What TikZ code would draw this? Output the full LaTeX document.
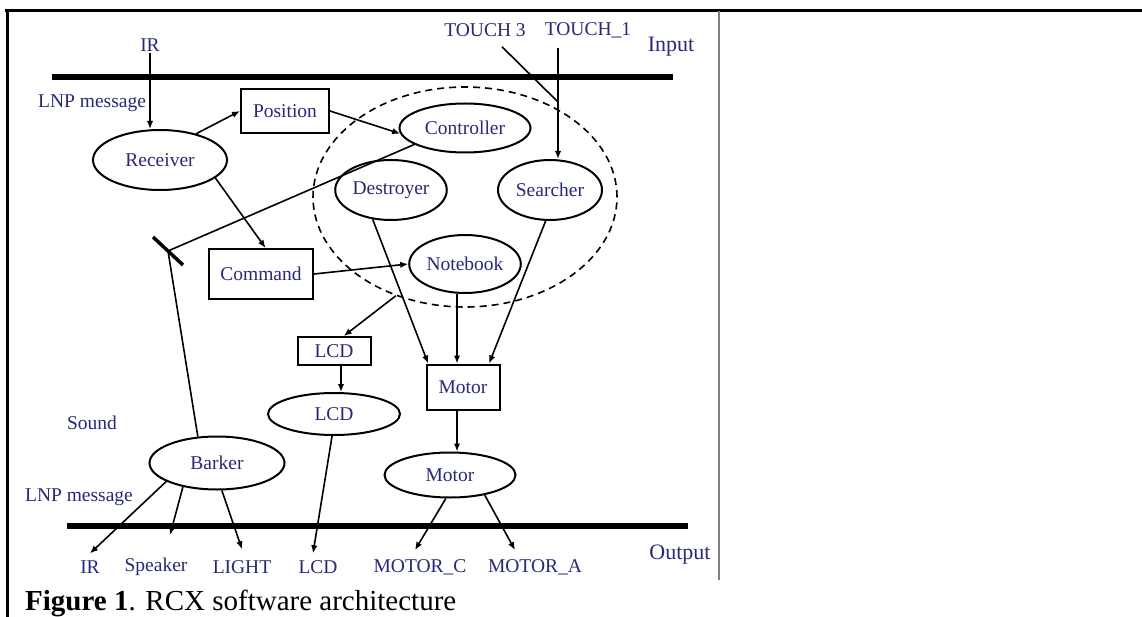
\documentclass[tikz,border=0pt]{standalone}
\usepackage{fontspec}
\setmainfont{Liberation Serif}
\usetikzlibrary{shapes.geometric,arrows.meta,calc}
\definecolor{navy}{RGB}{40,40,120}
\begin{document}
\begin{tikzpicture}[x=1pt,y=-1pt,
  lbl/.style={text=navy, font=\fontsize{19.5}{22}\selectfont, inner sep=1pt},
  biglbl/.style={text=navy, font=\fontsize{22}{25}\selectfont, inner sep=1pt},
  ell/.style={ellipse, draw, line width=2pt, inner sep=0pt, lbl},
  box/.style={rectangle, draw, line width=2pt, inner sep=0pt, lbl},
  conn/.style={line width=1.6pt, -{Latex[length=8pt,width=6.5pt]}},
  plain/.style={line width=1.6pt},
  bus/.style={line width=5.5pt}]
\useasboundingbox (0,0) rectangle (1142,617);
% frame
\draw[line width=3pt] (5,11) -- (1142,11);
\draw[line width=3pt] (7,11) -- (7,617);
\draw[gray, line width=2pt] (719,11) -- (719,580);
% buses
\coordinate (inL) at (52,77); \coordinate (inR) at (673,77);
\coordinate (outL) at (67,526); \coordinate (outR) at (688,526);
\draw[bus] (inL) -- (inR);
\draw[bus] (outL) -- (outR);
% group
\node[ellipse, draw, dash pattern=on 7pt off 5pt, line width=1.6pt, minimum width=304pt, minimum height=220pt] (group) at (465,197) {};
% nodes
\node[ell, minimum width=134pt, minimum height=60pt] (receiver) at (160,160) {Receiver};
\node[box, minimum width=88pt, minimum height=44pt] (position) at (285,111) {Position};
\node[ell, minimum width=131pt, minimum height=49pt] (controller) at (465,128) {Controller};
\node[ell, minimum width=102pt, minimum height=60pt] (destroyer) at (391,190) {Destroyer};
\node[ell, minimum width=104pt, minimum height=60pt] (searcher) at (550,190) {Searcher};
\node[box, minimum width=104pt, minimum height=50pt] (command) at (261,274) {Command};
\node[ell, minimum width=104pt, minimum height=58pt] (notebook) at (465,264) {Notebook};
\node[box, minimum width=73pt, minimum height=28pt] (lcdr) at (334,351) {LCD};
\node[ell, minimum width=132pt, minimum height=42pt] (lcde) at (334,414) {LCD};
\node[box, minimum width=73pt, minimum height=45pt] (motorr) at (463,387) {Motor};
\node[ell, minimum width=131pt, minimum height=45pt] (motore) at (450,475) {Motor};
\node[ell, minimum width=135pt, minimum height=53pt] (barker) at (217,463) {Barker};
% labels
\node[lbl] (irin) at (150,45) {IR};
\node[lbl, anchor=west] (lnp1) at (37,103) {LNP message};
\node[lbl] (touch3) at (485,30) {TOUCH 3};
\node[lbl] (touch1) at (588,30) {TOUCH\_1};
\node[biglbl] (input) at (671,47) {Input};
\node[lbl] (sound) at (92,423) {Sound};
\node[lbl] (lnp2) at (79,497) {LNP message};
\node[lbl] (irout) at (90,567) {IR};
\node[lbl] (speaker) at (156,567) {Speaker};
\node[lbl] (light) at (242,567) {LIGHT};
\node[lbl] (lcdout) at (318,567) {LCD};
\node[lbl] (motorc) at (420,567) {MOTOR\_C};
\node[lbl] (motora) at (535,567) {MOTOR\_A};
\node[biglbl] (output) at (680,555) {Output};
\node[anchor=base west, inner sep=0pt, font=\fontsize{29}{33}\selectfont] (caption) at (25,610) {\textbf{Figure 1}. RCX software architecture};
% connectors
\draw[conn] (irin.south) -- (irin.south |- receiver.north);
\draw[conn] (receiver.36) -- (position.west);
\draw[conn] (position.east) -- (controller.185);
\draw[conn] (receiver.-18) -- (command.80);
\draw[conn] (command.east) -- (notebook.west);
\draw[conn] (group.235) -- (lcdr.57);
\draw[conn] ([xshift=7pt]lcdr.south) -- ([xshift=7pt]lcdr.south |- lcde.north);
\draw[conn] (lcde.265) -- ([xshift=-5pt,yshift=6pt]lcdout.north);
\draw[conn] (destroyer.238) -- (motorr.146);
\draw[conn] ([xshift=-8pt]notebook.south) -- ([xshift=-6pt]motorr.north);
\draw[conn] (searcher.262) -- (motorr.42);
\draw[conn] ([xshift=-6pt]motorr.south) -- ([xshift=-6pt]motorr.south |- motore.north);
\draw[conn] (motore.260) -- ([xshift=-5pt,yshift=8pt]motorc.north);
\draw[conn] (motore.-30) -- ([xshift=-20pt,yshift=8pt]motora.north);
\draw[conn] (barker.200) -- ([yshift=6pt]irout.north);
\draw[conn] (barker.215) -- ([xshift=14pt,yshift=22pt]speaker.north);
\draw[conn] (barker.-80) -- ([yshift=10pt]light.north);
% touch lines
\coordinate (join) at (558,102);
\coordinate (t1top) at (558,48);
\draw[plain] ([xshift=17pt,yshift=-9pt]touch3.south) -- (join);
\draw[conn] (t1top) -- (join |- searcher.north);
% blocked link
\coordinate (bar) at (168,251);
\draw[line width=3.5pt] (153,237) -- (183,265);
\draw[plain] (barker.126) -- (bar);
\draw[plain] (bar) -- (controller.198);
\end{tikzpicture}
\end{document}
